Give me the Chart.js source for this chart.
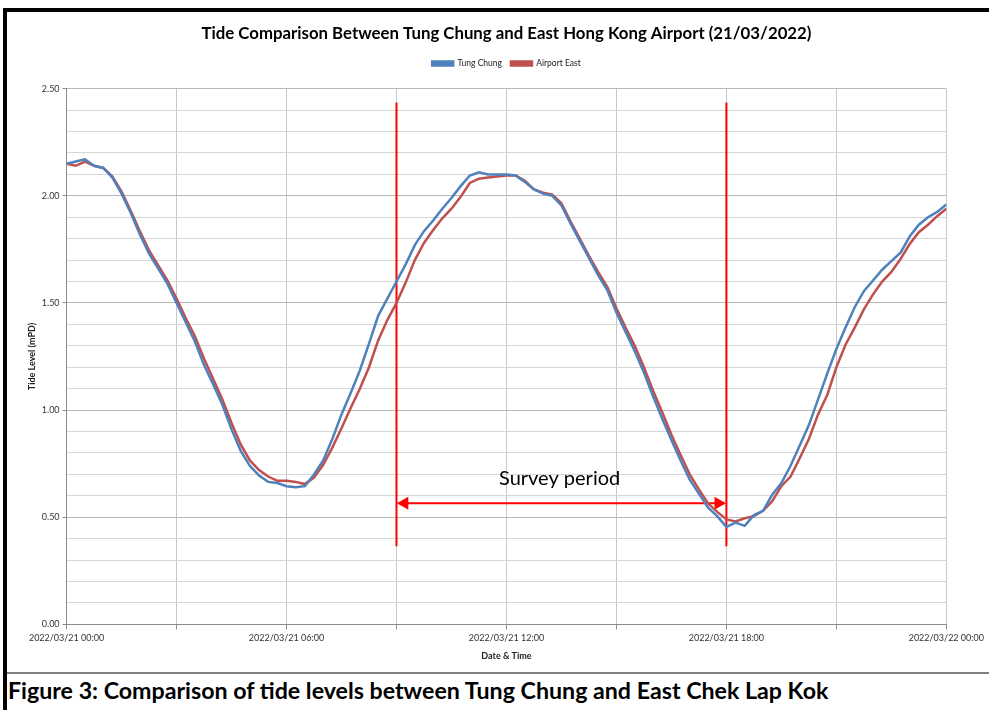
<!DOCTYPE html>
<html>
<head>
<meta charset="utf-8">
<title>Tide Comparison</title>
<script src="https://cdn.jsdelivr.net/npm/chart.js@4.4.1/dist/chart.umd.min.js"></script>
<style>
  html, body { margin: 0; padding: 0; background: #fff; }
  body { width: 989px; height: 710px; position: relative; overflow: hidden; font-family: Lato, sans-serif; }
  #frame { position: absolute; left: 3px; top: 8px; width: 986px; height: 702px;
           border-left: 4px solid #000; border-top: 4px solid #000; box-sizing: border-box; }
  #wrap { position: absolute; left: 8px; top: 12px; width: 979px; height: 653px; }
  #sep { position: absolute; left: 7px; top: 672px; width: 982px; height: 0; border-top: 2px solid #7f7f7f; }
  #caption { position: absolute; left: 8px; top: 676px; font: bold 23.2px Lato, sans-serif; color: #000; white-space: nowrap; }
</style>
</head>
<body>
<div id="frame"></div>
<div id="wrap"><canvas id="chart-tide"></canvas></div>
<div id="sep"></div>
<div id="caption">Figure 3: Comparison of tide levels between Tung Chung and East Chek Lap Kok</div>

<script>
// DATA (hours after 2022/03/21 00:00, every 15 min)
const HOURS = [
  0, 0.25, 0.5, 0.75, 1, 1.25, 1.5, 1.75, 2, 2.25, 2.5, 2.75,
  3, 3.25, 3.5, 3.75, 4, 4.25, 4.5, 4.75, 5, 5.25, 5.5, 5.75,
  6, 6.25, 6.5, 6.75, 7, 7.25, 7.5, 7.75, 8, 8.25, 8.5, 8.75,
  9, 9.25, 9.5, 9.75, 10, 10.25, 10.5, 10.75, 11, 11.25, 11.5, 11.75,
  12, 12.25, 12.5, 12.75, 13, 13.25, 13.5, 13.75, 14, 14.25, 14.5, 14.75,
  15, 15.25, 15.5, 15.75, 16, 16.25, 16.5, 16.75, 17, 17.25, 17.5, 17.75,
  18, 18.25, 18.5, 18.75, 19, 19.25, 19.5, 19.75, 20, 20.25, 20.5, 20.75,
  21, 21.25, 21.5, 21.75, 22, 22.25, 22.5, 22.75, 23, 23.25, 23.5, 23.75, 24
];

const TUNG_CHUNG = [
  2.15, 2.16, 2.17, 2.14, 2.13, 2.085, 2.01, 1.92, 1.82, 1.73, 1.66, 1.59,
  1.50, 1.41, 1.32, 1.21, 1.12, 1.025, 0.91, 0.81, 0.74, 0.695, 0.665, 0.66,
  0.645, 0.64, 0.645, 0.70, 0.765, 0.865, 0.98, 1.08, 1.185, 1.31, 1.44, 1.52,
  1.60, 1.68, 1.77, 1.835, 1.885, 1.94, 1.99, 2.045, 2.095, 2.11, 2.10, 2.10,
  2.10, 2.095, 2.065, 2.03, 2.01, 2.00, 1.955, 1.87, 1.79, 1.71, 1.63, 1.56,
  1.455, 1.365, 1.275, 1.175, 1.065, 0.96, 0.86, 0.765, 0.675, 0.61, 0.545, 0.505,
  0.455, 0.475, 0.46, 0.51, 0.53, 0.605, 0.66, 0.74, 0.835, 0.93, 1.05, 1.17,
  1.285, 1.385, 1.48, 1.555, 1.605, 1.655, 1.695, 1.735, 1.81, 1.865, 1.90, 1.925, 1.96
];

const AIRPORT_EAST = [
  2.15, 2.14, 2.16, 2.14, 2.13, 2.09, 2.02, 1.93, 1.835, 1.745, 1.675, 1.605,
  1.52, 1.43, 1.345, 1.24, 1.145, 1.05, 0.94, 0.84, 0.765, 0.72, 0.69, 0.67,
  0.67, 0.665, 0.655, 0.685, 0.745, 0.825, 0.915, 1.01, 1.10, 1.20, 1.325, 1.42,
  1.50, 1.595, 1.70, 1.78, 1.84, 1.895, 1.94, 1.995, 2.06, 2.08, 2.085, 2.09,
  2.095, 2.095, 2.07, 2.03, 2.015, 2.005, 1.965, 1.88, 1.80, 1.72, 1.645, 1.575,
  1.475, 1.385, 1.30, 1.20, 1.09, 0.99, 0.885, 0.79, 0.70, 0.63, 0.565, 0.525,
  0.49, 0.48, 0.495, 0.505, 0.53, 0.575, 0.645, 0.69, 0.775, 0.865, 0.98, 1.07,
  1.20, 1.305, 1.385, 1.47, 1.54, 1.60, 1.645, 1.705, 1.775, 1.83, 1.865, 1.905, 1.94
];

const X_TICK_LABELS = {
  0: "2022/03/21 00:00",
  6: "2022/03/21 06:00",
  12: "2022/03/21 12:00",
  18: "2022/03/21 18:00",
  24: "2022/03/22 00:00"
};

// survey period marks (hours / mPD)
const SURVEY_START = 9;
const SURVEY_END = 18;
const MARK_TOP = 2.435;
const MARK_BOTTOM = 0.365;
const ARROW_LEVEL = 0.565;

const BLUE = "#4f81bd";
const RED = "#c0504d";
const MARK_RED = "#ff0000";

const toPoints = (xs, ys) => xs.map((x, i) => ({ x: x, y: ys[i] }));

// "Survey period" text
const surveyLabel = {
  id: "surveyLabel",
  afterDatasetsDraw(chart) {
    const x = chart.scales.x.getPixelForValue(13.45);
    const y = chart.scales.y.getPixelForValue(0.68);
    const ctx = chart.ctx;
    ctx.save();
    ctx.font = "20px Lato, sans-serif";
    ctx.fillStyle = "#000";
    ctx.textAlign = "center";
    ctx.textBaseline = "middle";
    ctx.fillText("Survey period", x, y);
    ctx.restore();
  }
};

// extra room under the legend
const legendGap = {
  id: "legendGap",
  beforeInit(chart) {
    const fit = chart.legend.fit;
    chart.legend.fit = function () {
      fit.bind(chart.legend)();
      this.height += 11;
    };
  }
};

const isMajor = v => Math.abs(v * 2 - Math.round(v * 2)) < 1e-6;

new Chart(document.getElementById("chart-tide"), {
  type: "line",
  data: {
    datasets: [
      {
        label: "Tung Chung",
        data: toPoints(HOURS, TUNG_CHUNG),
        borderColor: BLUE,
        backgroundColor: BLUE,
        borderWidth: 2.5,
        pointRadius: 0,
        tension: 0
      },
      {
        label: "Airport East",
        data: toPoints(HOURS, AIRPORT_EAST),
        borderColor: RED,
        backgroundColor: RED,
        borderWidth: 2.5,
        pointRadius: 0,
        tension: 0
      },
      {
        label: "start",
        data: [{ x: SURVEY_START, y: MARK_TOP }, { x: SURVEY_START, y: MARK_BOTTOM }],
        borderColor: MARK_RED,
        borderWidth: 2,
        pointRadius: 0
      },
      {
        label: "end",
        data: [{ x: SURVEY_END, y: MARK_TOP }, { x: SURVEY_END, y: MARK_BOTTOM }],
        borderColor: MARK_RED,
        borderWidth: 2,
        pointRadius: 0
      },
      {
        label: "arrow",
        data: [{ x: SURVEY_START + 0.05, y: ARROW_LEVEL }, { x: SURVEY_END - 0.05, y: ARROW_LEVEL }],
        borderColor: MARK_RED,
        borderWidth: 2,
        pointRadius: 0
      },
      {
        label: "heads",
        data: [{ x: SURVEY_START + 0.22, y: ARROW_LEVEL }, { x: SURVEY_END - 0.22, y: ARROW_LEVEL }],
        showLine: false,
        pointStyle: "triangle",
        pointRadius: 7.5,
        pointRotation: [-90, 90],
        pointBackgroundColor: MARK_RED,
        pointBorderColor: MARK_RED,
        pointBorderWidth: 0
      }
    ]
  },
  options: {
    animation: false,
    responsive: true,
    maintainAspectRatio: false,
    layout: { padding: { left: 18, right: 0, top: 0, bottom: 0 } },
    plugins: {
      title: {
        display: true,
        text: "Tide Comparison Between Tung Chung and East Hong Kong Airport (21/03/2022)",
        color: "#000",
        font: { family: "Lato", size: 16.8, weight: "bold" },
        padding: { top: 12, bottom: 6 }
      },
      legend: {
        display: true,
        labels: {
          filter: item => item.datasetIndex < 2,
          boxWidth: 21,
          boxHeight: 4,
          color: "#222",
          font: { family: "Lato", size: 8.5 },
          padding: 9
        }
      },
      tooltip: { enabled: false }
    },
    scales: {
      x: {
        type: "linear",
        min: 0,
        max: 24,
        ticks: {
          stepSize: 3,
          autoSkip: false,
          maxRotation: 0,
          color: "#333",
          font: { family: "Lato", size: 9 },
          callback: v => X_TICK_LABELS[v] || ""
        },
        grid: { color: "#c8c8c8", tickLength: 5, tickColor: "#8c8c8c" },
        border: { color: "#8c8c8c" },
        title: { display: true, text: "Date & Time", color: "#222", font: { family: "Lato", size: 9, weight: "bold" }, padding: { top: 4 } }
      },
      y: {
        min: 0,
        max: 2.5,
        ticks: {
          stepSize: 0.1,
          autoSkip: false,
          color: "#333",
          font: { family: "Lato", size: 9 },
          callback: v => isMajor(v) ? v.toFixed(2) : ""
        },
        grid: {
          color: ctx => isMajor(ctx.tick.value) ? "#b8b8b8" : "#d6d6d6",
          tickLength: 4,
          tickColor: ctx => isMajor(ctx.tick.value) ? "#8c8c8c" : "rgba(0,0,0,0)"
        },
        border: { color: "#8c8c8c" },
        title: { display: true, text: "Tide Level (mPD)", color: "#222", font: { family: "Lato", size: 9, weight: "bold" }, padding: 1 }
      }
    }
  },
  plugins: [surveyLabel, legendGap]
});
</script>
</body>
</html>
